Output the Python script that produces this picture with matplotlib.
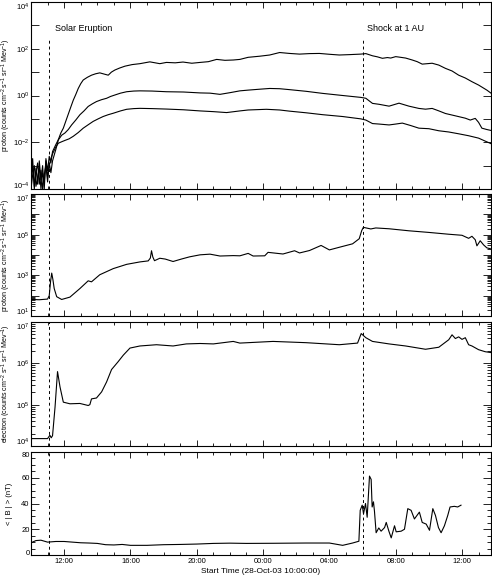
#!/usr/bin/env python3
# Stacked time series: proton fluxes, proton, electron and |B| around the
# 28-29 Oct 2003 event (solar eruption -> shock at 1 AU).
from datetime import datetime, timedelta

import numpy as np
import matplotlib
matplotlib.use("Agg")
import matplotlib.pyplot as plt
import matplotlib.dates as mdates
from matplotlib.ticker import FixedLocator, FuncFormatter, MultipleLocator

plt.rcParams["font.family"] = ["Liberation Sans", "DejaVu Sans"]
plt.rcParams["mathtext.fontset"] = "custom"
plt.rcParams["mathtext.rm"] = "Liberation Sans"
plt.rcParams["mathtext.it"] = "Liberation Sans:italic"

START = datetime(2003, 10, 28, 10, 0)

# --- data (hours after start time) -----------------------------------------
noise_h = [0.0, 0.1, 0.2, 0.3, 0.4, 0.5, 0.6, 0.7, 0.8, 0.9, 1.0, 1.1, 1.2, 1.3]

p_hi_h = noise_h + [1.5, 1.65, 1.8, 1.95, 2.1, 2.25, 2.4, 2.55, 2.7, 2.85,
                    3.0, 3.15, 3.4, 3.65, 3.9, 4.15, 4.4, 4.66, 4.85, 5.06,
                    5.35, 5.67, 6.1, 6.57, 7.17, 7.77, 8.17, 8.7, 9.17, 9.7,
                    10.2, 10.7, 11.2, 11.7, 12.2, 12.6, 13.1, 13.8, 14.4, 15.0,
                    15.6, 16.2, 16.8, 17.4, 18.0, 18.6, 19.2, 19.9, 20.2, 20.6,
                    20.9, 21.2, 21.5, 21.7, 22.0, 22.2, 22.6, 23.0, 23.3, 23.6,
                    24.2, 24.6, 25.0, 25.4, 25.8, 26.2, 26.6, 27.0, 27.5, 27.75]
p_hi = [5e-4, 2e-3, 1e-4, 8e-4, 1.6e-4, 1.6e-3, 2.5e-4, 1e-3, 1e-4, 2e-3,
        6e-4, 2.5e-3, 1.3e-3, 4e-3,
        8e-3, 1.3e-2, 2.5e-2, 4e-2, 8e-2, 0.16, 0.32, 0.63, 1.1, 2.0,
        3.2, 4.6, 6.0, 7.4, 8.5, 9.3, 8.3, 7.4, 10, 12.3,
        15, 18, 21, 23, 27.5, 23, 26, 25, 27, 24,
        26, 28, 35, 32, 33, 35, 43, 48, 54, 69,
        63, 59, 62, 63, 58, 54, 56, 59, 62, 50,
        45, 39, 42, 40, 46, 44, 40, 33, 28, 22,
        24, 20, 14.5, 11.2, 7.4, 5.6, 3.9, 2.8, 1.7, 1.26]

p_mid_h = noise_h + [1.5, 1.65, 1.85, 2.05, 2.25, 2.45, 2.7, 2.95, 3.2, 3.45,
                     3.7, 3.95, 4.25, 4.56, 4.8, 5.06, 5.4, 5.77, 6.2, 6.57,
                     7.3, 8.17, 9.2, 10.2, 10.8, 11.4, 12.0, 12.6, 13.1, 13.8,
                     14.4, 15.0, 15.6, 16.6, 17.6, 18.8, 19.9, 20.2, 20.6, 21.0,
                     21.6, 22.2, 22.8, 23.4, 23.8, 24.2, 24.6, 25.0, 25.6, 26.2,
                     26.5, 26.8, 27.0, 27.2, 27.5, 27.75]
p_mid = [2.5e-4, 1e-3, 1.3e-4, 5e-4, 1.3e-3, 1.6e-4, 6.3e-4, 1e-4, 4e-4, 1e-3,
         2e-4, 1.3e-3, 5e-4, 1.6e-3,
         5e-3, 1.26e-2, 2e-2, 2.5e-2, 3.5e-2, 5.5e-2, 8.9e-2, 0.15, 0.22, 0.34,
         0.44, 0.55, 0.66, 0.76, 0.91, 1.05, 1.26, 1.45, 1.55, 1.58,
         1.55, 1.45, 1.41, 1.29, 1.26, 1.12, 1.32, 1.58, 1.7, 1.86,
         2.0, 1.95, 1.78, 1.51, 1.23, 1.0, 0.83, 0.76, 0.46, 0.42,
         0.35, 0.47, 0.35, 0.28, 0.26, 0.28, 0.22, 0.17, 0.135, 0.107,
         0.089, 0.105, 0.071, 0.04, 0.035, 0.032]

p_lo_h = noise_h + [1.5, 1.65, 1.85, 2.05, 2.3, 2.55, 2.85, 3.15, 3.45, 3.75,
                    4.05, 4.35, 4.66, 4.96, 5.4, 5.77, 6.2, 6.57, 7.3, 8.17,
                    9.2, 10.2, 11.0, 11.8, 12.6, 13.1, 14.2, 15.0, 15.6, 16.6,
                    17.6, 18.8, 19.9, 20.2, 20.6, 21.0, 21.6, 22.0, 22.4, 22.9,
                    23.4, 24.0, 24.6, 25.2, 25.8, 26.4, 27.0, 27.4, 27.75]
p_lo = [1e-4, 4e-4, 1e-3, 1.3e-4, 3.2e-4, 8e-4, 1e-4, 5e-4, 2e-4, 1.6e-3,
        3.2e-4, 1e-3, 2e-3, 3.2e-3,
        6.3e-3, 9.1e-3, 1.05e-2, 1.2e-2, 1.4e-2, 1.8e-2, 2.6e-2, 4e-2, 5.6e-2, 7.8e-2,
        0.1, 0.126, 0.151, 0.174, 0.219, 0.257, 0.275, 0.282, 0.275, 0.263,
        0.245, 0.219, 0.204, 0.186, 0.219, 0.24, 0.257, 0.24, 0.214, 0.182,
        0.151, 0.126, 0.1, 0.089, 0.063, 0.06, 0.055, 0.06, 0.066, 0.052,
        0.04, 0.038, 0.031, 0.0275, 0.023, 0.019, 0.015, 0.0112, 0.0087]

proton_h = [0.0, 0.5, 1.0, 1.1, 1.18, 1.25, 1.32, 1.4, 1.55, 1.85,
            2.35, 2.95, 3.45, 3.65, 4.15, 4.96, 5.77, 6.57, 7.07, 7.2,
            7.27, 7.35, 7.45, 7.77, 8.1, 8.57, 9.07, 9.57, 10.2, 10.8,
            11.4, 12.2, 12.6, 13.1, 13.4, 14.1, 14.3, 15.2, 15.9, 16.2,
            16.8, 17.5, 18.0, 18.6, 19.4, 19.8, 19.95, 20.05, 20.5, 20.8,
            21.6, 22.8, 24.0, 25.2, 26.0, 26.4, 26.6, 26.8, 26.9, 27.1,
            27.3, 27.5, 27.75]
proton = [65, 63, 68, 100, 500, 1290, 630, 224, 89, 65,
          85, 224, 537, 479, 1070, 2140, 3470, 4570, 5130, 7080,
          16200, 7940, 5250, 6920, 6310, 4790, 6310, 8130, 10200, 11000,
          8910, 9330, 9120, 12000, 8910, 9120, 13500, 11200, 16200, 12600,
          16600, 29500, 17800, 24000, 35500, 63100, 158000, 229000, 191000, 214000,
          195000, 155000, 129000, 105000, 93300, 66100, 83200, 56200, 28200, 50100,
          31600, 22400, 20000]

electron_h = [0.0, 0.5, 1.0, 1.07, 1.14, 1.22, 1.3, 1.45, 1.6, 1.75,
              1.95, 2.35, 2.95, 3.45, 3.55, 3.65, 3.95, 4.26, 4.56, 4.86,
              5.26, 5.57, 5.97, 6.57, 7.57, 8.57, 9.37, 10.2, 11.0, 12.2,
              12.6, 14.6, 16.6, 18.6, 19.7, 19.92, 20.2, 20.6, 21.6, 22.6,
              23.8, 24.6, 25.2, 25.4, 25.6, 25.8, 26.0, 26.2, 26.4, 26.6,
              27.0, 27.4, 27.75]
electron = [15100, 15100, 15100, 16600, 18200, 15800, 17800, 87100, 631000, 269000,
            115000, 105000, 107000, 95500, 100000, 138000, 145000, 204000, 355000, 708000,
            1.1e6, 1.58e6, 2.34e6, 2.63e6, 2.82e6, 2.63e6, 2.95e6, 3.02e6, 2.95e6, 3.39e6,
            3.09e6, 3.39e6, 3.16e6, 2.82e6, 3.09e6, 5.25e6, 4.17e6, 3.39e6, 2.95e6, 2.63e6,
            2.19e6, 2.45e6, 3.72e6, 4.9e6, 3.98e6, 4.37e6, 3.8e6, 4.17e6, 2.82e6, 2.63e6,
            2.14e6, 1.91e6, 1.82e6]

bmag_h = [0.0, 0.3, 0.6, 1.0, 1.5, 2.0, 2.5, 3.0, 3.5, 4.0,
          4.5, 5.0, 5.5, 6.0, 7.0, 8.0, 9.0, 10.0, 11.0, 12.0,
          13.0, 14.6, 16.6, 18.0, 18.8, 19.4, 19.78, 19.86, 19.98, 20.06,
          20.18, 20.28, 20.42, 20.52, 20.58, 20.66, 20.72, 20.82, 20.98, 21.12,
          21.33, 21.43, 21.59, 21.73, 21.93, 22.03, 22.33, 22.53, 22.73, 22.93,
          23.13, 23.43, 23.6, 23.84, 24.04, 24.24, 24.4, 24.58, 24.74, 24.94,
          25.14, 25.28, 25.54, 25.74, 25.94]
bmag = [9.5, 11.2, 11.5, 10.0, 10.5, 10.5, 10.0, 9.5, 9.3, 9.0,
        8.0, 7.8, 8.2, 7.5, 7.5, 8.0, 8.2, 8.5, 9.0, 9.2,
        9.0, 9.1, 9.3, 9.3, 7.5, 9.3, 10.7, 34.7, 38.7, 32,
        40, 29.3, 61.3, 58.7, 37.3, 41.3, 34, 17.3, 21, 18.5,
        21.3, 25.3, 18.5, 13.3, 22.7, 18, 18.5, 20, 36, 34.7,
        28, 33.3, 25.3, 24, 19.2, 36, 30.7, 21.3, 17.3, 22.7,
        30.7, 37.3, 37.8, 37.3, 38.7]

b_ticks = [0, 20, 40, 60, 80]

eruption_h = 1.07
shock_h = 20.0
end_h = 27.75

FLUX_UNIT = r"(counts cm$^{-2}$ s$^{-1}$ sr$^{-1}$ Mev$^{-1}$)"


def to_time(hours):
    return [START + timedelta(hours=h) for h in hours]


def decade_formatter(keep):
    # so rotula os expoentes listados em keep
    def fmt(v, pos):
        e = int(round(np.log10(v)))
        return r"$10^{%d}$" % e if e in keep else ""
    return FuncFormatter(fmt)


def style_axis(ax):
    ax.tick_params(which="both", direction="in", top=True, right=True,
                   labelsize=5.5, width=0.6, pad=1)
    ax.tick_params(which="major", axis="y", length=6)
    ax.tick_params(which="minor", axis="y", length=3)
    ax.tick_params(which="major", axis="x", length=4, pad=2)
    ax.tick_params(which="minor", axis="x", length=2.2)
    for s in ax.spines.values():
        s.set_linewidth(0.8)
    ax.xaxis.set_major_locator(mdates.HourLocator(byhour=range(0, 24, 4)))
    ax.xaxis.set_minor_locator(mdates.HourLocator())
    ax.xaxis.set_major_formatter(mdates.DateFormatter("%H:%M"))
    ax.set_xlim(START, START + timedelta(hours=end_h))


W, H = 492, 577
fig = plt.figure(figsize=(W / 100, H / 100), dpi=100)


def panel(top, bottom):
    return fig.add_axes([31 / W, 1 - bottom / H, 460 / W, (bottom - top) / H])


ax1 = panel(2, 189)
ax2 = panel(194, 316)
ax3 = panel(322, 446)
ax4 = panel(452, 555)

line_kw = dict(color="black", linewidth=0.8)
dash_kw = dict(color="black", linewidth=0.7, linestyle=(0, (3, 3)))

# --- panel 1: protons, three channels --------------------------------------
for hh, vv in [(p_hi_h, p_hi), (p_mid_h, p_mid), (p_lo_h, p_lo)]:
    ax1.plot(to_time(hh), vv, **line_kw)
ax1.set_yscale("log")
ax1.set_ylim(1e-4, 1e4)
ax1.yaxis.set_major_locator(FixedLocator([10.0 ** e for e in range(-4, 5)]))
ax1.yaxis.set_minor_locator(FixedLocator([]))
ax1.yaxis.set_major_formatter(decade_formatter({-4, -2, 0, 2, 4}))
ax1.set_ylabel("proton " + FLUX_UNIT, fontsize=5.1)
ax1.axvline(START + timedelta(hours=eruption_h), ymax=0.80, **dash_kw)
ax1.axvline(START + timedelta(hours=shock_h), ymax=0.80, **dash_kw)
ax1.text(START + timedelta(hours=1.45), 0.856, "Solar Eruption",
         transform=ax1.get_xaxis_transform(), fontsize=6.5, va="center")
ax1.text(START + timedelta(hours=20.27), 0.856, "Shock at 1 AU",
         transform=ax1.get_xaxis_transform(), fontsize=6.5, va="center")

# --- panel 2: protons ------------------------------------------------------
ax2.plot(to_time(proton_h), proton, **line_kw)
ax2.set_yscale("log")
ax2.set_ylim(1e1, 1e7)
ax2.yaxis.set_major_locator(FixedLocator([10.0 ** e for e in range(1, 8)]))
ax2.yaxis.set_minor_locator(FixedLocator(
    [m * 10.0 ** e for e in range(1, 7) for m in range(2, 10)]))
ax2.yaxis.set_major_formatter(decade_formatter({1, 3, 5, 7}))
ax2.set_ylabel("proton " + FLUX_UNIT, fontsize=5.1)

# --- panel 3: electrons ----------------------------------------------------
ax3.plot(to_time(electron_h), electron, **line_kw)
ax3.set_yscale("log")
ax3.set_ylim(1e4, 1e7)
ax3.yaxis.set_major_locator(FixedLocator([10.0 ** e for e in range(4, 8)]))
ax3.yaxis.set_minor_locator(FixedLocator(
    [m * 10.0 ** e for e in range(4, 7) for m in range(2, 10)]))
ax3.yaxis.set_major_formatter(decade_formatter({4, 5, 6, 7}))
ax3.set_ylabel("electron " + FLUX_UNIT, fontsize=5.1)

# --- panel 4: |B| ----------------------------------------------------------
ax4.plot(to_time(bmag_h), bmag, **line_kw)
ax4.set_ylim(0, 80)
ax4.yaxis.set_major_locator(FixedLocator(b_ticks))
ax4.yaxis.set_minor_locator(MultipleLocator(5))
ax4.set_ylabel("< | B | > (nT)", fontsize=5.5)
ax4.set_xlabel("Start Time (28-Oct-03 10:00:00)", fontsize=6, labelpad=2)

for ax in (ax1, ax2, ax3, ax4):
    style_axis(ax)
    ax.yaxis.set_label_coords(-0.039, 0.5)
    # rotulos das pontas ficam dentro do painel (como no IDL)
    ticks = ax.yaxis.get_major_ticks()
    ticks[0].label1.set_va("baseline")
    ticks[-1].label1.set_va("top")
for ax in (ax2, ax3, ax4):
    ax.axvline(START + timedelta(hours=eruption_h), **dash_kw)
    ax.axvline(START + timedelta(hours=shock_h), **dash_kw)
for ax in (ax1, ax2, ax3):
    ax.tick_params(axis="x", labelbottom=False)

fig.savefig("out.png", dpi=100)
